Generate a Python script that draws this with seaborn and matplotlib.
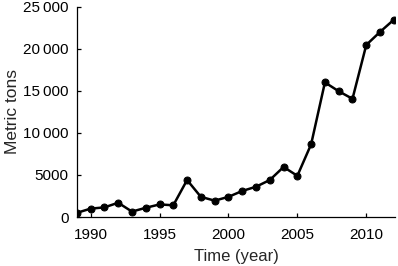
import pandas as pd
import matplotlib
matplotlib.use('Agg')
import matplotlib.pyplot as plt
import seaborn as sns

# values
years = list(range(1989, 2013))
tons = [500, 1000, 1150, 1700, 650, 1100, 1500, 1400, 4400, 2400, 1950, 2400,
        3100, 3600, 4400, 5950, 4900, 8650, 16000, 14950, 14050, 20450, 22000, 23450]
xticks = [1990, 1995, 2000, 2005, 2010]
yticks = [0, 5000, 10000, 15000, 20000, 25000]
ylabels = ['0', '5000', '10\u2009000', '15\u2009000', '20\u2009000', '25\u2009000']

df = pd.DataFrame({'Year': years, 'Tons': tons})

sns.set_style('ticks')
plt.rcParams['font.family'] = ['Liberation Sans', 'DejaVu Sans']

fig = plt.figure(figsize=(3.98, 2.66), dpi=100)
ax = fig.add_axes([0.193, 0.184, 0.8, 0.791])
sns.lineplot(data=df, x='Year', y='Tons', color='black', linewidth=1.8,
             marker='o', markersize=5, markeredgecolor='black', ax=ax)

ax.set_xlim(1989, 2012.1)
ax.set_ylim(0, 25000)
ax.set_xticks(xticks)
ax.set_yticks(yticks, ylabels)
ax.tick_params(direction='in', length=3, width=0.9, labelsize=11, colors='black')
ax.tick_params(axis='x', pad=8)
ax.tick_params(axis='y', pad=6)
ax.set_xlabel('Time (year)', fontsize=12, labelpad=5)
ax.set_ylabel('Metric tons', fontsize=12.5, labelpad=2)
sns.despine(ax=ax)
for s in ['left', 'bottom']:
    ax.spines[s].set_linewidth(0.9)
    ax.spines[s].set_color('black')

fig.savefig('out.png', dpi=100)
